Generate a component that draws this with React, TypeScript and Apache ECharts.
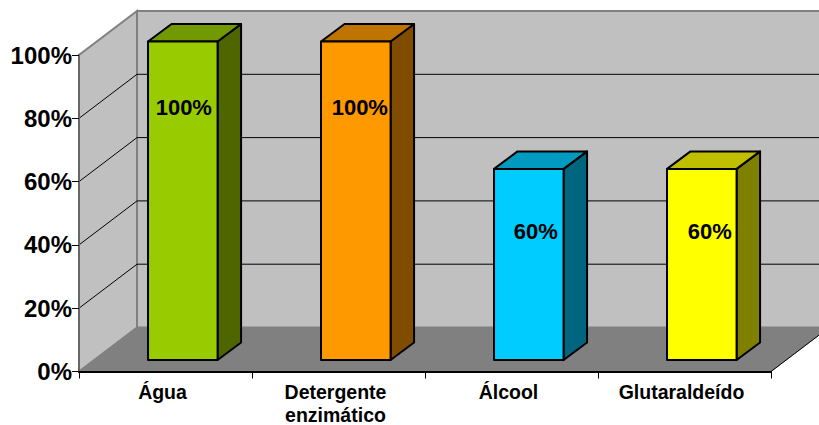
import React, { useEffect, useRef } from "react";
import * as echarts from "echarts";

const categories = ["Água", "Detergente\nenzimático", "Álcool", "Glutaraldeído"];
const values = [100, 100, 60, 60];
const labels = ["100%", "100%", "60%", "60%"];
const gridValues = [20, 40, 60, 80];

const frontColors = ["#99CC00", "#FF9900", "#00CCFF", "#FFFF00"];
const topColors = ["#739900", "#BF7300", "#0099BF", "#BFBF00"];
const sideColors = ["#4D6600", "#804D00", "#00667F", "#808000"];

// chart depth (pixels)
const WALL_DX = 58;
const WALL_DY = 44;
const BAR_DX = 23.5;
const BAR_DY = 17.5;
const LABEL_OFFSET_X = [1, 4, 7, 8];
const LABEL_OFFSET_Y = [66, 66, 63, 63];
const FONT = '"Liberation Sans", Arial, sans-serif';

export default function App() {
  const ref = useRef<HTMLDivElement>(null);
  useEffect(() => {
    const chart = echarts.init(ref.current!, undefined, { renderer: "svg", width: 819, height: 425 });

    const renderWalls = (params: any, api: any) => {
      const cs = params.coordSys;
      const x0 = cs.x;
      const x1 = cs.x + cs.width;
      const yb = api.coord([0, 0])[1];
      const yt = api.coord([0, 100])[1];
      const children: any[] = [
        { type: "polygon", shape: { points: [[x0, yb], [x0 + WALL_DX, yb - WALL_DY], [x0 + WALL_DX, yt - WALL_DY], [x0, yt]] }, style: { fill: "#C0C0C0", stroke: "#808080", lineWidth: 2 } },
        { type: "polygon", shape: { points: [[x0 + WALL_DX, yb - WALL_DY], [x1 + WALL_DX, yb - WALL_DY], [x1 + WALL_DX, yt - WALL_DY], [x0 + WALL_DX, yt - WALL_DY]] }, style: { fill: "#C0C0C0", stroke: "#808080", lineWidth: 2 } },
        { type: "polygon", shape: { points: [[x0, yb], [x1, yb], [x1 + WALL_DX, yb - WALL_DY], [x0 + WALL_DX, yb - WALL_DY]] }, style: { fill: "#808080", stroke: "#808080", lineWidth: 1 } },
        { type: "line", shape: { x1, y1: yb, x2: x1 + WALL_DX, y2: yb - WALL_DY }, style: { stroke: "#000", lineWidth: 1 } },
      ];
      gridValues.forEach((v) => {
        const y = api.coord([0, v])[1];
        children.push({ type: "polyline", shape: { points: [[x0, y], [x0 + WALL_DX, y - WALL_DY], [x1 + WALL_DX, y - WALL_DY]] }, style: { fill: "none", stroke: "#000", lineWidth: 1 } });
      });
      return { type: "group", children };
    };

    const renderBar = (params: any, api: any) => {
      const i = api.value(0);
      const top = api.coord([i, api.value(1)]);
      const base = api.coord([i, 0]);
      const w = api.size([1, 0])[0] * 0.402;
      const l = top[0] - w / 2;
      const r = top[0] + w / 2;
      const edge = { stroke: "#000", lineWidth: 2, lineJoin: "round" };
      return {
        type: "group",
        children: [
          { type: "polygon", shape: { points: [[r, top[1]], [r + BAR_DX, top[1] - BAR_DY], [r + BAR_DX, base[1] - BAR_DY], [r, base[1]]] }, style: { fill: sideColors[i], ...edge } },
          { type: "polygon", shape: { points: [[l, top[1]], [l + BAR_DX, top[1] - BAR_DY], [r + BAR_DX, top[1] - BAR_DY], [r, top[1]]] }, style: { fill: topColors[i], ...edge } },
          { type: "rect", shape: { x: l, y: top[1], width: w, height: base[1] - top[1] }, style: { fill: frontColors[i], ...edge } },
          { type: "text", x: top[0] + LABEL_OFFSET_X[i], y: top[1] + LABEL_OFFSET_Y[i], style: { text: labels[i], fill: "#000", font: `bold 22px ${FONT}`, align: "center", verticalAlign: "middle" } },
        ],
      };
    };

    chart.setOption({
      animation: false,
      backgroundColor: "#fff",
      grid: [
        { left: 79, right: 48, top: 55, bottom: 53.5, outerBoundsMode: "none", containLabel: false },
        { left: 96.3, right: 30.7, top: 41.5, bottom: 65, outerBoundsMode: "none", containLabel: false },
      ],
      xAxis: [
        {
          type: "category",
          gridIndex: 0,
          data: categories,
          z: 5,
          axisLine: { show: true, lineStyle: { color: "#000", width: 2 } },
          axisTick: { show: true, length: 7, lineStyle: { color: "#000", width: 1 } },
          axisLabel: { color: "#000", fontFamily: FONT, fontWeight: "bold", fontSize: 19.5, lineHeight: 23, margin: 9, interval: 0, padding: [0, 6, 0, 0] },
        },
        { type: "category", gridIndex: 1, data: categories, show: false },
      ],
      yAxis: [
        {
          type: "value",
          gridIndex: 0,
          min: 0,
          max: 100,
          interval: 20,
          z: 5,
          splitLine: { show: false },
          axisLine: { show: true, lineStyle: { color: "#666", width: 2 } },
          axisTick: { show: true, length: 7, lineStyle: { color: "#000", width: 1 } },
          axisLabel: { color: "#000", fontFamily: FONT, fontWeight: "bold", fontSize: 24, margin: 7, formatter: "{value}%" },
        },
        { type: "value", gridIndex: 1, min: 0, max: 100, interval: 20, show: false },
      ],
      series: [
        { type: "custom", xAxisIndex: 0, yAxisIndex: 0, z: -1, silent: true, data: [[0, 0]], encode: { x: 0, y: 1 }, renderItem: renderWalls },
        { type: "custom", xAxisIndex: 1, yAxisIndex: 1, z: 6, silent: true, data: values.map((v, i) => [i, v]), encode: { x: 0, y: 1 }, renderItem: renderBar },
      ],
    });
    return () => chart.dispose();
  }, []);
  return <div ref={ref} style={{ position: "absolute", left: 0, top: 0, width: 819, height: 425, overflow: "hidden" }} />;
}
